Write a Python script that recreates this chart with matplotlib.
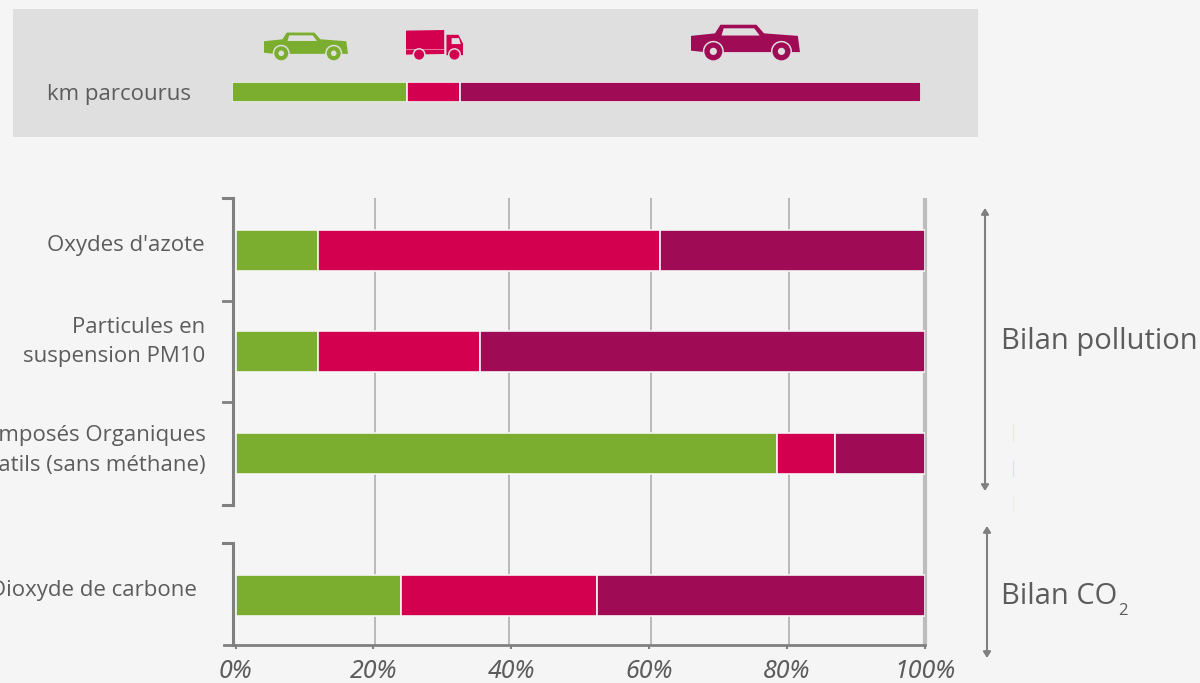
import matplotlib
matplotlib.use("Agg")
import matplotlib.pyplot as plt
from matplotlib.patches import Polygon, Ellipse, Rectangle

plt.rcParams['font.family'] = ['Open Sans', 'DejaVu Sans']

W, H = 1200, 683
BG = '#f5f5f5'
PANEL = '#dfdfdf'
TXT = '#5c5c5e'
GREY = '#808080'
GREEN = '#7bae2e'
RED = '#d3004f'
PURPLE = '#a00b56'
series_colors = [GREEN, RED, PURPLE]

# cumulative boundaries (%)
km_ends = [25.4, 33.1, 100]
pollutants = ["Oxydes d'azote", "Particules en\nsuspension PM10",
              "Composés Organiques\nVolatils (sans méthane)", "Dioxyde de carbone"]
green_end = [12.0, 12.0, 78.5, 24.0]
red_end = [61.5, 35.4, 87.0, 52.5]
purple_end = [100, 100, 100, 100]
x_ticks = [0, 20, 40, 60, 80, 100]
x_labels = ['0%', '20%', '40%', '60%', '80%', '100%']
grid_at = [20.3, 39.6, 60.3, 80.3]

bar_y = [250, 351, 453, 595]   # pixel rows of the bars


def px_axes(fig, x0, y0, x1, y1):
    return fig.add_axes([x0 / W, 1 - y1 / H, (x1 - x0) / W, (y1 - y0) / H])


def draw_car(ax, x0, y0, x1, y1, color, r):
    w, h = x1 - x0, y1 - y0
    body = [(0, .33), (.22, .26), (.27, .02), (.60, .02), (.67, .26), (.98, .33), (1, .78), (.9, .78),
            (.75, .78), (.28, .78), (.12, .78), (0, .74)]
    glass = [(.30, .12), (.58, .12), (.63, .32), (.28, .32)]
    ax.add_patch(Polygon([(x0 + a * w, y0 + b * h) for a, b in body], fc=color, ec='none', zorder=3))
    ax.add_patch(Polygon([(x0 + a * w, y0 + b * h) for a, b in glass], fc=PANEL, ec='none', zorder=4))
    for a in (.205, .83):
        c = (x0 + a * w, y0 + .76 * h)
        ax.add_patch(Ellipse(c, 2 * r + 3, 2 * r + 3, fc=PANEL, ec='none', zorder=4))
        ax.add_patch(Ellipse(c, 2 * r, 2 * r, fc=color, ec='none', zorder=5))
        ax.add_patch(Ellipse(c, .8 * r, .8 * r, fc=PANEL, ec='none', zorder=6))


def draw_truck(ax, x0, y0, x1, y1, color):
    w, h = x1 - x0, y1 - y0
    pts = lambda p: [(x0 + a * w, y0 + b * h) for a, b in p]
    ax.add_patch(Polygon(pts([(0, .02), (.67, 0), (.67, .8), (0, .82)]), fc=color, ec='none', zorder=3))
    ax.add_patch(Rectangle((x0, y0 + .63 * h), .67 * w, 1, fc='#e9729c', ec='none', zorder=4))
    ax.add_patch(Polygon(pts([(.71, .16), (.92, .16), (1, .45), (1, .84), (.71, .84)]), fc=color, ec='none', zorder=3))
    ax.add_patch(Polygon(pts([(.80, .27), (.93, .27), (.96, .47), (.80, .47)]), fc=PANEL, ec='none', zorder=4))
    for a in (.23, .85):
        c = (x0 + a * w, y0 + .82 * h)
        ax.add_patch(Ellipse(c, 13, 13, fc=PANEL, ec='none', zorder=4))
        ax.add_patch(Ellipse(c, 10, 10, fc=color, ec='none', zorder=5))


fig = plt.figure(figsize=(W / 100, H / 100), dpi=100, facecolor=BG)

# full-figure layer in pixel coordinates, for panel, icons and annotations
bg = fig.add_axes([0, 0, 1, 1])
bg.set_xlim(0, W)
bg.set_ylim(H, 0)
bg.axis('off')
bg.add_patch(Rectangle((13, 9), 965, 128, fc=PANEL, ec='none', zorder=1))

draw_car(bg, 264, 32, 348, 60, GREEN, 7)
draw_truck(bg, 406, 30, 463, 60, RED)
draw_car(bg, 691, 24, 800, 60, PURPLE, 9)
bg.text(47, 94.5, 'km parcourus', fontsize=16, color=TXT, va='center', ha='left')

# top km bar
ax_km = px_axes(fig, 232, 82, 921, 102)
ax_km.set_xlim(0, 100)
ax_km.set_ylim(-.5, .5)
ax_km.axis('off')
left = 0
for end, col in zip(km_ends, series_colors):
    ax_km.barh(0, end - left, left=left, height=1, color=col, edgecolor='#f4f4f4', linewidth=1.2)
    left = end

# main stacked bars
ax = px_axes(fig, 235.5, 198, 925, 645)
ax.patch.set_alpha(0)
ax.set_xlim(0, 100)
ax.set_ylim(645, 198)
ax.vlines(grid_at, 198, 645, color='#a9a9a9', lw=1.1, zorder=1)
ax.vlines(100, 198, 645, color='#bdbdbd', lw=3, zorder=1, clip_on=False)
prev = [0, 0, 0, 0]
for ends, col in zip([green_end, red_end, purple_end], series_colors):
    widths = [e - p for e, p in zip(ends, prev)]
    ax.barh(bar_y, widths, left=prev, height=41, color=col, edgecolor=BG, linewidth=1.2, zorder=3)
    prev = ends
for side in ('top', 'left', 'right'):
    ax.spines[side].set_visible(False)
ax.spines['bottom'].set_color(GREY)
ax.spines['bottom'].set_linewidth(2)
ax.set_yticks([])
ax.set_xticks(x_ticks, x_labels, fontsize=18, style='italic', color=TXT, family='Noto Sans')
ax.tick_params(axis='x', length=3, width=1.5, color=GREY, pad=7)

# y brackets
bg.plot([223, 233, 233, 223], [198, 198, 505, 505], color=GREY, lw=2.2, solid_joinstyle='miter', zorder=2)
for y in (301, 402):
    bg.plot([223, 233], [y, y], color=GREY, lw=2, zorder=2)
bg.plot([223, 233, 233], [543, 543, 645], color=GREY, lw=2.2, solid_joinstyle='miter', zorder=2)
bg.plot([224, 235], [645, 645], color=GREY, lw=2, zorder=2)

# category labels
label_y = [245.5, 342, 450.5, 590.5]
label_x = [205, 205, 206, 197]
for name, x, y in zip(pollutants, label_x, label_y):
    bg.text(x, y, name, fontsize=16, color=TXT, ha='right', va='center', linespacing=1.5)

# brace arrows
for x, y0, y1 in [(985, 208, 491), (987, 526, 658)]:
    bg.annotate('', xy=(x, y0), xytext=(x, y1),
                arrowprops=dict(arrowstyle='<|-|>,head_width=0.22,head_length=0.35', color=GREY, lw=1.5,
                                shrinkA=0, shrinkB=0))

# faint compression marks right of the arrow
for y0, y1, col in [(424, 440, '#e6eadb'), (461, 476, '#dbe3ef'), (497, 510, '#eeeee6')]:
    bg.plot([1013, 1013], [y0, y1], color=col, lw=1, zorder=1)

bg.text(1001, 341, 'Bilan pollution', fontsize=21, color=TXT, ha='left', va='center')
bg.text(1001, 596, 'Bilan CO', fontsize=21, color=TXT, ha='left', va='center')
bg.text(1118, 611, '2', fontsize=12, color=TXT, ha='left', va='center')

fig.savefig('out.png', dpi=100, facecolor=BG)
